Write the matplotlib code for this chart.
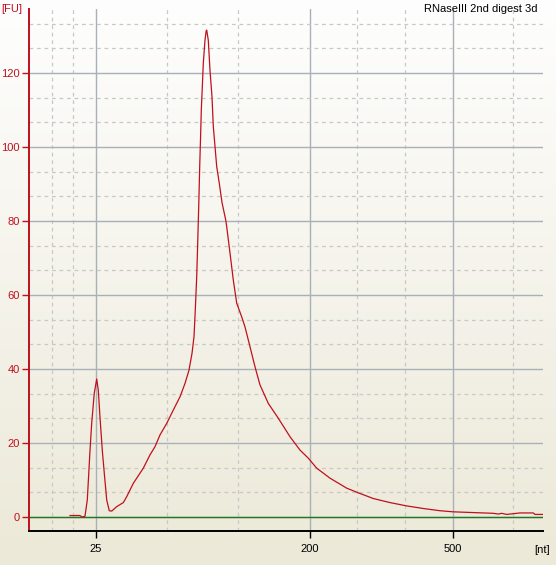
import numpy as np
import matplotlib
matplotlib.use('Agg')
import matplotlib.pyplot as plt
from matplotlib.ticker import MultipleLocator, FixedLocator
from matplotlib.colors import LinearSegmentedColormap

plt.rcParams['font.family'] = ['Liberation Sans', 'DejaVu Sans']

# electropherogram trace: migration position (0-100 across the window) and fluorescence [FU]
pos = [7.98, 9.92, 10.31, 10.89, 11.34, 11.87, 12.20, 12.70, 13.04, 13.17, 13.48, 13.81,
       14.26, 14.65, 15.12, 15.62, 16.09, 17.06, 18.35, 19.01, 20.29, 22.24, 23.54, 24.51,
       25.49, 26.79, 28.07, 29.38, 30.35, 31.13, 31.71, 32.10, 32.35, 32.63, 32.82, 33.02,
       33.21, 33.40, 33.52, 33.72, 33.91, 34.24, 34.47, 34.57, 34.88, 35.21, 35.60, 35.86,
       36.19, 36.52, 37.02, 37.55, 38.27, 38.46, 39.11, 39.75, 40.41, 41.38, 42.02, 43.00,
       43.97, 44.94, 46.56, 48.50, 50.78, 52.72, 54.34, 55.97, 58.56, 61.81, 63.95, 66.98,
       70.23, 73.48, 76.71, 79.96, 82.55, 86.44, 90.33, 91.30, 91.96, 92.94, 95.53, 98.11,
       98.44, 100.0]
fu = [0.4, 0.4, 0.0, 0.2, 4.6, 18.0, 25.4, 33.5, 36.2, 37.3, 34.3, 27.0,
      18.0, 11.8, 4.6, 1.7, 1.6, 2.8, 3.9, 5.5, 9.1, 13.2, 16.8, 19.0,
      22.2, 25.3, 28.9, 32.5, 36.1, 39.7, 44.2, 48.7, 55.9, 65.0, 74.0, 83.9,
      94.7, 103.7, 110.0, 116.3, 122.6, 128.9, 131.4, 131.6, 128.9, 120.8, 113.6, 105.5,
      100.1, 94.7, 90.2, 85.0, 80.3, 78.5, 71.3, 64.0, 57.8, 54.1, 51.4, 46.0,
      40.6, 35.7, 30.7, 26.7, 21.7, 18.1, 15.9, 13.2, 10.5, 7.8, 6.6, 5.0,
      3.9, 3.0, 2.3, 1.7, 1.4, 1.2, 1.0, 0.8, 1.0, 0.7, 1.1, 1.1,
      0.7, 0.7]

# ladder sizes and where they sit on the axis
ladder_pos = [13.04, 54.67, 82.49]
ladder_nt = ['25', '200', '500']
minor_pos = [4.47, 8.56, 26.85, 40.66, 63.81, 73.15, 94.16]

red = '#c0101c'

fig = plt.figure(figsize=(5.56, 5.65), dpi=100)

# background gradient white -> beige
bg = fig.add_axes([0, 0, 1, 1], zorder=-10)
cmap = LinearSegmentedColormap.from_list('bg', ['#ece9d8', '#fefefe'])
grad = np.linspace(0, 1, 256).reshape(-1, 1)
bg.imshow(grad, cmap=cmap, aspect='auto', extent=[0, 1, 0, 1], origin='lower')
bg.axis('off')

ax = fig.add_axes([29 / 556, 34 / 565, 514 / 556, 522 / 565])
ax.set_facecolor('none')
ax.set_xlim(0, 100)
ax.set_ylim(-3.78, 137.3)

ax.xaxis.set_major_locator(FixedLocator(ladder_pos))
ax.set_xticklabels(ladder_nt)
ax.xaxis.set_minor_locator(FixedLocator(minor_pos))
ax.yaxis.set_major_locator(MultipleLocator(20))
ax.yaxis.set_minor_locator(MultipleLocator(20 / 3))

ax.grid(which='major', color='#a9b0b8', lw=1.0, ls='-', zorder=0)
ax.grid(which='minor', color='#c8c8c8', lw=0.9, ls=(0, (3, 3)), zorder=0)
ax.set_axisbelow(True)

ax.tick_params(axis='y', which='major', colors=red, length=5, width=1.0, pad=1.5, labelsize=8)
ax.tick_params(axis='x', which='major', colors='black', length=5, width=1.0, pad=4, labelsize=8)
ax.tick_params(which='minor', length=0)

for s in ['top', 'right']:
    ax.spines[s].set_visible(False)
ax.spines['left'].set_color(red)
ax.spines['left'].set_linewidth(1.4)
ax.spines['bottom'].set_color('black')
ax.spines['bottom'].set_linewidth(1.4)

ax.axhline(0, color='#1f7a1f', lw=1.0, zorder=2)
ax.plot(pos, fu, color=red, lw=0.9, zorder=3)

fig.text(1 / 556, 1 - 9 / 565, '[FU]', color=red, fontsize=8, ha='left', va='center')
fig.text(550 / 556, 1 - 550 / 565, '[nt]', color='black', fontsize=8, ha='right', va='center')
fig.text(538 / 556, 1 - 4 / 565, 'RNaseIII 2nd digest 3d', color='black', fontsize=8,
         ha='right', va='top')

fig.savefig('out.png', dpi=100)
